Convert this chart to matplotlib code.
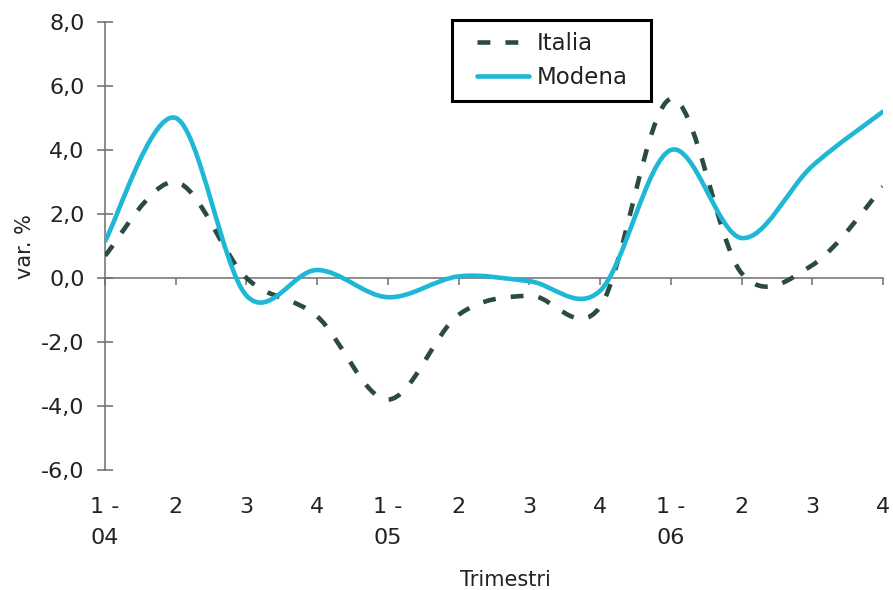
import matplotlib
matplotlib.use("Agg")
import matplotlib.pyplot as plt
from matplotlib.path import Path
from matplotlib.lines import Line2D
from matplotlib.legend_handler import HandlerLine2D

# Variazioni % trimestrali, 2004-2006
trimestri_riga1 = ["1 -", "2", "3", "4", "1 -", "2", "3", "4", "1 -", "2", "3", "4"]
trimestri_riga2 = ["04", "", "", "", "05", "", "", "", "06", "", "", ""]
italia = [0.7, 3.0, 0.0, -1.2, -3.8, -1.15, -0.55, -0.9, 5.6, 0.15, 0.4, 2.85]
modena = [1.15, 5.0, -0.55, 0.25, -0.6, 0.05, -0.1, -0.4, 4.0, 1.25, 3.5, 5.2]
y_ticks = [-6, -4, -2, 0, 2, 4, 6, 8]

COL_ITALIA = "#2b4a42"
COL_MODENA = "#1fb7d6"
COL_ASSE = "#6e6e6e"
COL_TESTO = "#222222"
FS = 16
DASH = (2.8, 3.3)


def smooth_path(ys):
    """Curva liscia tipo Excel (Bezier con tangenti Catmull-Rom)."""
    xs = list(range(len(ys)))
    n = len(ys)
    verts = [(xs[0], ys[0])]
    codes = [Path.MOVETO]
    for i in range(n - 1):
        a = max(i - 1, 0)
        b = min(i + 2, n - 1)
        c1 = (xs[i] + (xs[i + 1] - xs[a]) / 6, ys[i] + (ys[i + 1] - ys[a]) / 6)
        c2 = (xs[i + 1] - (xs[b] - xs[i]) / 6, ys[i + 1] - (ys[b] - ys[i]) / 6)
        verts += [c1, c2, (xs[i + 1], ys[i + 1])]
        codes += [Path.CURVE4] * 3
    return Path(verts, codes)


def plot_smooth(ax, ys, **kw):
    # la curva viene appiattita in coordinate schermo e riportata in dati
    poly = smooth_path(ys).to_polygons(transform=ax.transData, closed_only=False)[0]
    xy = ax.transData.inverted().transform(poly)
    return ax.plot(xy[:, 0], xy[:, 1], **kw)


def box_legenda(x0, y0, width, height, mutation_size):
    # cornice rettangolare con un po' di margine in più a destra
    w = width + 12
    return Path([(x0, y0), (x0 + w, y0), (x0 + w, y0 + height), (x0, y0 + height),
                 (x0, y0)], closed=True)


fig = plt.figure(figsize=(8.93, 5.90), dpi=100)
ax = fig.add_axes([105 / 893, 1 - 470 / 590, 778 / 893, 448 / 590])
ax.set_xlim(0, len(italia) - 1)
ax.set_ylim(-6, 8)

plot_smooth(ax, italia, color=COL_ITALIA, lw=3.3, linestyle=(0, DASH),
            zorder=3, label="Italia")
plot_smooth(ax, modena, color=COL_MODENA, lw=3.3, solid_capstyle="round",
            solid_joinstyle="round", zorder=4, label="Modena")

for s in ("top", "right"):
    ax.spines[s].set_visible(False)
ax.spines["bottom"].set_position(("data", 0))
for s in ("left", "bottom"):
    ax.spines[s].set_color(COL_ASSE)
    ax.spines[s].set_linewidth(1.1)

ax.set_xticks(range(len(italia)))
ax.tick_params(axis="x", direction="out", length=5, width=1.1, color=COL_ASSE,
               labelbottom=False)
ax.set_yticks(y_ticks)
ax.set_yticklabels([f"{v:.1f}".replace(".", ",") for v in y_ticks], fontsize=FS)
ax.tick_params(axis="y", direction="inout", length=11.5, width=1.1, color=COL_ASSE,
               pad=9, labelcolor=COL_TESTO)

tr = ax.get_xaxis_transform()
for i, (r1, r2) in enumerate(zip(trimestri_riga1, trimestri_riga2)):
    ax.text(i, -0.083, r1, transform=tr, ha="center", va="center",
            fontsize=FS, color=COL_TESTO)
    if r2:
        ax.text(i, -0.152, r2, transform=tr, ha="center", va="center",
                fontsize=FS, color=COL_TESTO)

fig.text(25 / 893, 1 - 247 / 590, "var. %", rotation=90, ha="center", va="center",
         fontsize=15, color=COL_TESTO)
fig.text(505 / 893, 1 - 580 / 590, "Trimestri", ha="center", va="center",
         fontsize=15, color=COL_TESTO)

leg = ax.legend(loc="upper left", bbox_to_anchor=(452 / 893, 1 - 20 / 590),
                bbox_transform=fig.transFigure, borderaxespad=0, fontsize=16.5,
                fancybox=False, framealpha=1, edgecolor="black",
                borderpad=0.52, labelspacing=0.5,
                handlelength=3.44, handletextpad=-0.28,
                handler_map={Line2D: HandlerLine2D(marker_pad=0.58, numpoints=2)})
leg.get_frame().set_linewidth(2.2)
leg.get_frame().set_boxstyle(box_legenda)
for t in leg.get_texts():
    t.set_color(COL_TESTO)

fig.savefig("out.png", dpi=100)
